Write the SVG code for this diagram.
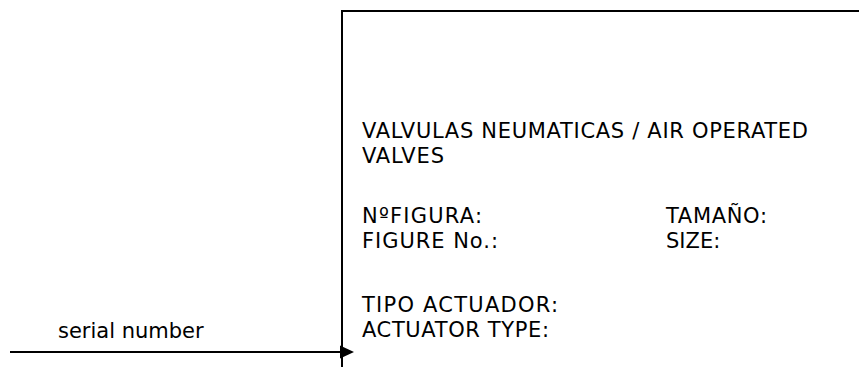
<svg xmlns="http://www.w3.org/2000/svg" width="859" height="367" viewBox="0 0 859 367">
  <style>
    .t { font-family: "DejaVu Sans", Verdana, sans-serif; font-size: 21px; fill: #000; }
    .ln { stroke: #000; stroke-width: 2; fill: none; }
  </style>
  <defs>
    <marker id="arrow" markerUnits="userSpaceOnUse" markerWidth="14" markerHeight="13" refX="0" refY="6.5" orient="auto" overflow="visible">
      <path d="M0,0 L14,6.5 L0,13 z" fill="#000"/>
    </marker>
  </defs>
  <rect width="859" height="367" fill="#fff"/>
  <g id="form-box">
    <path class="ln" d="M342,367 L342,11 L859,11"/>
    <text class="t" x="362" y="138" textLength="446" lengthAdjust="spacing">VALVULAS NEUMATICAS / AIR OPERATED</text>
    <text class="t" x="362" y="163" textLength="82" lengthAdjust="spacing">VALVES</text>
    <text class="t" x="362" y="223" textLength="120" lengthAdjust="spacing">NºFIGURA:</text>
    <text class="t" x="362" y="248" textLength="136" lengthAdjust="spacing">FIGURE No.:</text>
    <text class="t" x="666" y="223" textLength="101" lengthAdjust="spacing">TAMAÑO:</text>
    <text class="t" x="666" y="248">SIZE:</text>
    <text class="t" x="362" y="312" textLength="196" lengthAdjust="spacing">TIPO ACTUADOR:</text>
    <text class="t" x="362" y="337" textLength="187" lengthAdjust="spacing">ACTUATOR TYPE:</text>
  </g>
  <g id="serial-label">
    <text class="t" x="58" y="338">serial number</text>
  </g>
  <g id="connectors">
    <line class="ln" x1="10" y1="352" x2="340" y2="352" marker-end="url(#arrow)"/>
  </g>
</svg>
